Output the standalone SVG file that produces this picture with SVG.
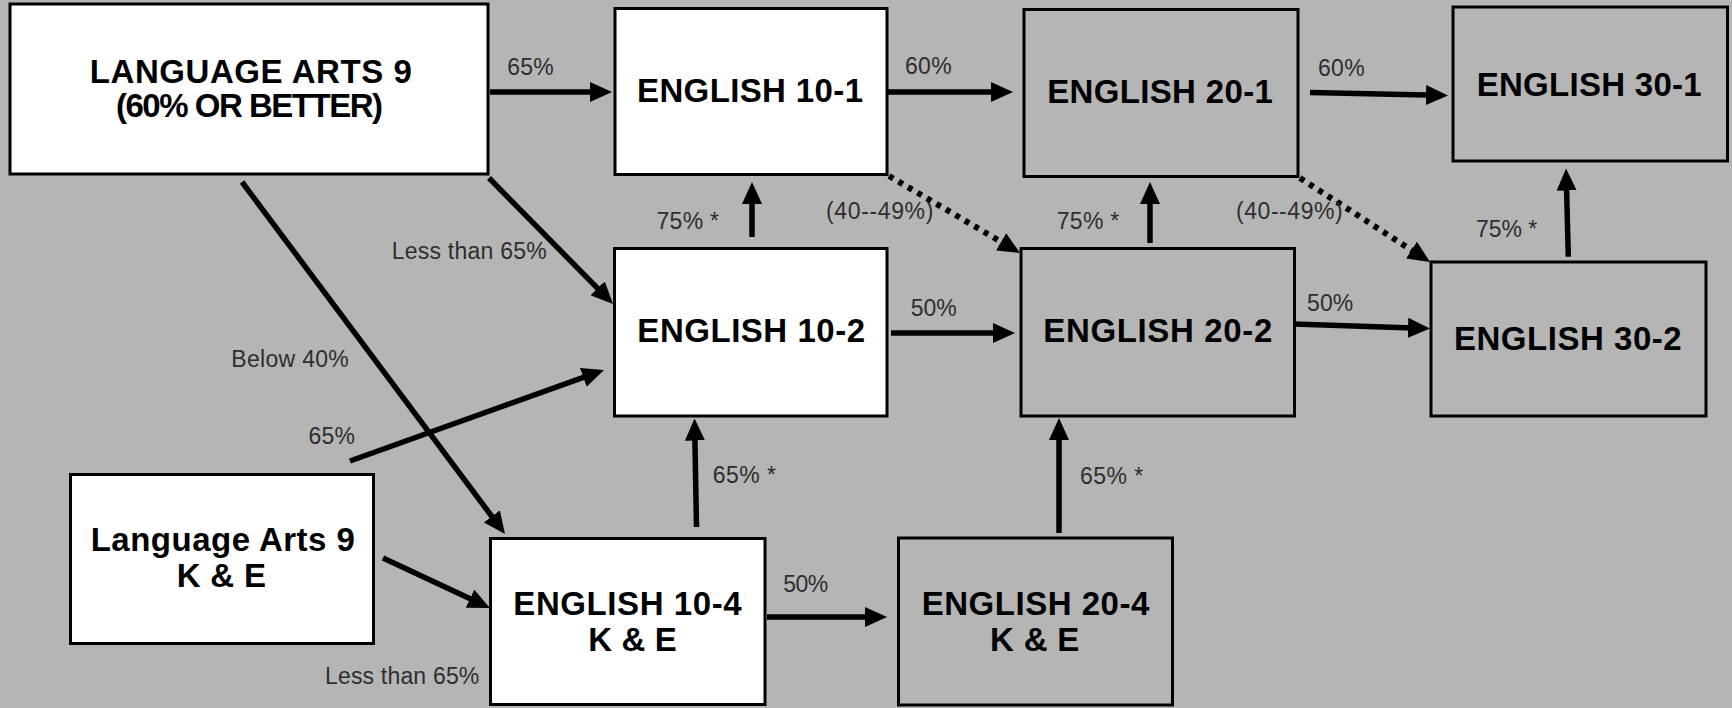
<svg xmlns="http://www.w3.org/2000/svg" width="1732" height="708" viewBox="0 0 1732 708">
<style>
.bw{fill:#ffffff;stroke:#000;stroke-width:3}
.bg{fill:#b5b5b5;stroke:#000;stroke-width:3}
.t{font-family:"Liberation Sans",Arial,sans-serif;font-weight:bold;font-size:33px;fill:#000;text-anchor:middle}
.l{font-family:"Liberation Sans",Arial,sans-serif;font-size:23px;fill:#2e2e2e}
.c{stroke:#000;stroke-width:5.5;fill:none;marker-end:url(#ah)}
.d{stroke:#000;stroke-width:6;fill:none;stroke-dasharray:5 6;marker-end:url(#ah)}
</style>
<defs>
<marker id="ah" markerUnits="userSpaceOnUse" viewBox="0 0 22 20" markerWidth="22" markerHeight="20" refX="12" refY="10" orient="auto">
<path d="M0,0 L22,10 L0,20 z" fill="#000"/>
</marker>
</defs>
<rect x="0" y="0" width="1732" height="708" fill="#b5b5b5"/>

<g id="connectors">
<line class="c" x1="490" y1="92" x2="602" y2="92"/>
<line class="c" x1="888" y1="92" x2="1003" y2="92"/>
<line class="c" x1="1310" y1="92.5" x2="1438" y2="95.3"/>
<line class="c" x1="489" y1="178" x2="606" y2="296.9"/>
<line class="c" x1="350" y1="461" x2="594.6" y2="373.4"/>
<line class="c" x1="242" y1="182" x2="499" y2="526"/>
<line class="c" x1="383" y1="558" x2="480.9" y2="603.8"/>
<line class="c" x1="752" y1="237" x2="752" y2="192"/>
<line class="c" x1="696.5" y1="527" x2="694.7" y2="428.5"/>
<line class="c" x1="891" y1="333" x2="1005" y2="333"/>
<line class="c" x1="767" y1="617" x2="877" y2="617"/>
<line class="c" x1="1150" y1="243" x2="1150" y2="192"/>
<line class="c" x1="1059" y1="533" x2="1059" y2="428"/>
<line class="c" x1="1294" y1="324" x2="1420" y2="328.2"/>
<line class="c" x1="1568.3" y1="256.7" x2="1566.3" y2="178.5"/>
<line class="d" x1="889" y1="176" x2="1011.4" y2="247.9"/>
<line class="d" x1="1300" y1="178" x2="1421.6" y2="256.6"/>
</g>

<g id="labels">
<text class="l" x="507.3" y="75" textLength="46.3">65%</text>
<text class="l" x="905" y="74" textLength="46.7">60%</text>
<text class="l" x="1318" y="75.5" textLength="46.7">60%</text>
<text class="l" x="656.5" y="229.3" textLength="62.5">75% *</text>
<text class="l" x="826" y="218.5" textLength="107.3">(40--49%)</text>
<text class="l" x="1056.7" y="229.3" textLength="62.6">75% *</text>
<text class="l" x="1236" y="218.5" textLength="106.7">(40--49%)</text>
<text class="l" x="1476" y="237.3" textLength="61.3">75% *</text>
<text class="l" x="391.7" y="259" textLength="155">Less than 65%</text>
<text class="l" x="910.7" y="315.7" textLength="46">50%</text>
<text class="l" x="1307" y="311" textLength="46.3">50%</text>
<text class="l" x="231.3" y="366.7" textLength="117.5">Below 40%</text>
<text class="l" x="308.4" y="444" textLength="46.6">65%</text>
<text class="l" x="712.7" y="483.3" textLength="63.3">65% *</text>
<text class="l" x="1080" y="484" textLength="63.3">65% *</text>
<text class="l" x="783.3" y="591.7" textLength="45">50%</text>
<text class="l" x="325" y="684" textLength="154.3">Less than 65%</text>
</g>

<g id="la9">
<rect class="bw" x="10" y="4" width="478" height="170"/>
<text class="t" x="250.8" y="83.3" font-size="32" textLength="322">LANGUAGE ARTS 9</text>
<text class="t" x="249.5" y="117.3" font-size="31" textLength="267">(60% OR BETTER)</text>
</g>
<g id="e101">
<rect class="bw" x="615" y="8.5" width="272" height="166"/>
<text class="t" x="750" y="102.3" textLength="226">ENGLISH 10-1</text>
</g>
<g id="e201">
<rect class="bg" x="1024" y="9.5" width="274" height="167"/>
<text class="t" x="1160" y="103.3" textLength="225.7">ENGLISH 20-1</text>
</g>
<g id="e301">
<rect class="bg" x="1453" y="7" width="274.5" height="154"/>
<text class="t" x="1589.2" y="96" textLength="225">ENGLISH 30-1</text>
</g>
<g id="e102">
<rect class="bw" x="614.5" y="248.5" width="272.5" height="167.5"/>
<text class="t" x="751.2" y="342.3" textLength="227.7">ENGLISH 10-2</text>
</g>
<g id="e202">
<rect class="bg" x="1021" y="248.5" width="273.5" height="167.5"/>
<text class="t" x="1157.8" y="342.3" textLength="229">ENGLISH 20-2</text>
</g>
<g id="e302">
<rect class="bg" x="1431" y="262" width="275" height="154"/>
<text class="t" x="1567.8" y="350" textLength="227.7">ENGLISH 30-2</text>
</g>
<g id="la9ke">
<rect class="bw" x="70.5" y="474.5" width="303" height="169"/>
<text class="t" x="222.8" y="551" textLength="264.3">Language Arts 9</text>
<text class="t" x="221.3" y="587.3" textLength="89.3">K &amp; E</text>
</g>
<g id="e104">
<rect class="bw" x="490.5" y="538.5" width="274.5" height="166"/>
<text class="t" x="627.5" y="615" textLength="228.4">ENGLISH 10-4</text>
<text class="t" x="632.5" y="650.7" textLength="88.4">K &amp; E</text>
</g>
<g id="e204">
<rect class="bg" x="898.5" y="538" width="274" height="167"/>
<text class="t" x="1035.5" y="615" textLength="227.6">ENGLISH 20-4</text>
<text class="t" x="1034.7" y="651" textLength="89.3">K &amp; E</text>
</g>
</svg>
